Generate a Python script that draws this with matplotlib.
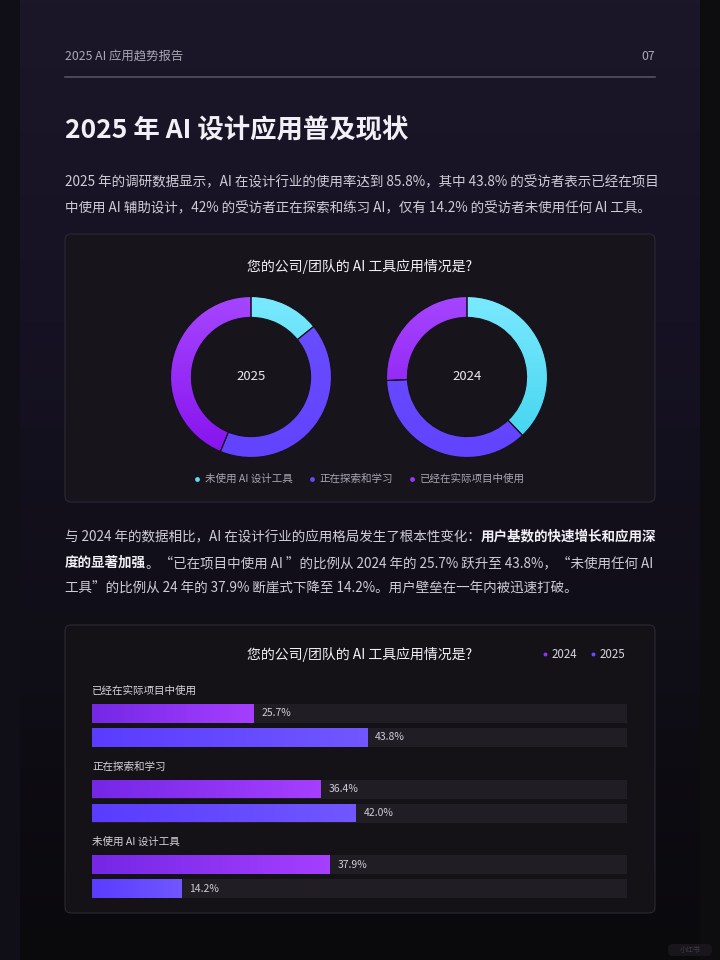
import numpy as np
import matplotlib
matplotlib.use('Agg')
import matplotlib.pyplot as plt
from matplotlib.patches import FancyBboxPatch, Rectangle
from matplotlib.colors import LinearSegmentedColormap

plt.rcParams['font.family'] = ['Noto Sans CJK SC', 'DejaVu Sans']

# donut data (clockwise from 12 o'clock)
donut_labels = ['未使用 AI 设计工具', '正在探索和学习', '已经在实际项目中使用']
share_2025 = [14.2, 42.0, 43.8]
share_2024 = [37.9, 36.4, 25.7]

# bar data
bar_groups = ['已经在实际项目中使用', '正在探索和学习', '未使用 AI 设计工具']
bar_2024 = [25.7, 36.4, 37.9]
bar_2025 = [43.8, 42.0, 14.2]
years = ['2024', '2025']

TXT = '#d0ccd7'
WHITE = '#f2f0f6'
ring_grads = [('#7be9ff', '#3fd3ee'), ('#6a4fff', '#6243ff'), ('#a646ff', '#8612ee')]
leg_cols = ['#5fdcf2', '#6548ff', '#9b35ff']
bar_grads = {'2024': ('#7527e6', '#a63fff'), '2025': ('#5a3cff', '#7157ff')}
leg_bar_cols = {'2024': '#8a35f0', '2025': '#6a4cff'}

fig = plt.figure(figsize=(7.2, 9.6), dpi=100)
fig.patch.set_facecolor('#0f0d13')
bg = fig.add_axes([0, 0, 1, 1])
bg.set_xlim(0, 720)
bg.set_ylim(960, 0)
bg.axis('off')

# page background
bg.add_patch(Rectangle((0, 0), 20, 960, color='#100e16', zorder=0))
bg.add_patch(Rectangle((700, 0), 20, 960, color='#0d0c0f', zorder=0))
page = LinearSegmentedColormap.from_list('page', ['#1b1729', '#161223', '#100e17', '#0a090c'])
bg.imshow(np.linspace(0, 1, 256).reshape(-1, 1), extent=(20, 700, 960, 0), cmap=page,
          aspect='auto', zorder=0)
bg.set_xlim(0, 720)
bg.set_ylim(960, 0)

# header
bg.text(65, 56, '2025 AI 应用趋势报告', fontsize=8.9, color='#aaa6b3', va='center')
bg.text(655, 56, '07', fontsize=8.9, color='#aaa6b3', va='center', ha='right')
bg.plot([65, 655], [77, 77], color='#55515f', lw=1.2)

bg.text(65, 131, '2025 年 AI 设计应用普及现状', fontsize=19, fontweight='bold', color=WHITE, va='center')

renderer = fig.canvas.get_renderer()


def runs(x, y, parts, size=9.75):
    for s, bold in parts:
        t = bg.text(x, y, s, fontsize=size, color=WHITE if bold else TXT,
                    fontweight='bold' if bold else 'normal', va='center')
        x += t.get_window_extent(renderer=renderer).width


runs(65, 182, [('2025 年的调研数据显示，AI 在设计行业的使用率达到 85.8%，其中 43.8% 的受访者表示已经在项目', False)])
runs(65, 208, [('中使用 AI 辅助设计，42% 的受访者正在探索和练习 AI，仅有 14.2% 的受访者未使用任何 AI 工具。', False)])

runs(65, 537, [('与 2024 年的数据相比，AI 在设计行业的应用格局发生了根本性变化：', False),
               ('用户基数的快速增长和应用深', True)])
runs(65, 563, [('度的显著加强', True),
               ('。“已在项目中使用 AI ”的比例从 2024 年的 25.7% 跃升至 43.8%，“未使用任何 AI', False)])
runs(65, 589, [('工具”的比例从 24 年的 37.9% 断崖式下降至 14.2%。用户壁垒在一年内被迅速打破。', False)])

# cards
for y0, h, fc in [(234, 268, '#17141c'), (625, 288, '#141217')]:
    bg.add_patch(FancyBboxPatch((65, y0), 590, h, boxstyle='round,pad=0,rounding_size=6',
                                fc=fc, ec='#2c2933', lw=0.8, zorder=1))

title = '您的公司/团队的 AI 工具应用情况是?'
bg.text(360, 266, title, fontsize=10, color=WHITE, ha='center', va='center', zorder=3)
bg.text(360, 655, title, fontsize=10, color=WHITE, ha='center', va='center', zorder=3)

# donuts
grad = np.linspace(0, 1, 256).reshape(-1, 1)


def donut(cx, cy, vals, label):
    r = 90
    ax = fig.add_axes([(cx - r) / 720, 1 - (cy + r) / 960, 2 * r / 720, 2 * r / 960])
    wedges, _ = ax.pie(vals, startangle=90, counterclock=False, radius=1,
                       wedgeprops=dict(width=0.26, edgecolor='#15121a', linewidth=0.8))
    for w, (c1, c2) in zip(wedges, ring_grads):
        w.set_facecolor('none')
        w.set_zorder(3)
        cm = LinearSegmentedColormap.from_list('w', [c1, c2])
        im = ax.imshow(grad, extent=(-1, 1, -1, 1), origin='upper', cmap=cm, aspect='auto', zorder=2)
        im.set_clip_path(w)
    s = r / 80.5
    ax.set_xlim(-s, s)
    ax.set_ylim(-s, s)
    ax.set_aspect('equal')
    ax.axis('off')
    ax.text(0, 0, label, ha='center', va='center', fontsize=9.5, color='#ebe9f0')


donut(251, 377, share_2025, '2025')
donut(467, 377, share_2024, '2024')

# donut legend
x = 193
for lab, c in zip(donut_labels, leg_cols):
    bg.scatter([x + 4], [479], s=12, color=c, zorder=3, linewidths=0)
    t = bg.text(x + 12, 479, lab, fontsize=7.6, color='#a9a5b2', va='center', zorder=3)
    x += 12 + t.get_window_extent(renderer=renderer).width + 15

# bar legend
x = 541
for yr in years:
    bg.scatter([x + 4], [654], s=8, color=leg_bar_cols[yr], zorder=3, linewidths=0)
    t = bg.text(x + 11, 654, yr, fontsize=8.3, color='#d8d4de', va='center', zorder=3)
    x += 11 + t.get_window_extent(renderer=renderer).width + 11

# bars
xmax = 85.2
bx = fig.add_axes([92 / 720, 0, 535 / 720, 1])
bx.set_xlim(0, xmax)
bx.set_ylim(960, 0)
bx.axis('off')
bx.patch.set_alpha(0)
hgrad = np.linspace(0, 1, 256).reshape(1, -1)
for i, name in enumerate(bar_groups):
    base = 713.5 + i * 75.5
    bx.text(0, base - 22.5, name, fontsize=7.6, color='#d6d2dc', va='center')
    for j, (yr, vals) in enumerate(zip(years, [bar_2024, bar_2025])):
        y = base + j * 24
        bx.barh(y, xmax, height=19, color='#201e24', zorder=1)
        bar = bx.barh(y, vals[i], height=19, color='none', zorder=3)[0]
        cm = LinearSegmentedColormap.from_list('b', list(bar_grads[yr]))
        im = bx.imshow(hgrad, extent=(0, vals[i], y + 9.5, y - 9.5), cmap=cm, aspect='auto', zorder=2)
        im.set_clip_path(bar)
        bx.text(vals[i] + 8 * xmax / 535, y, f'{vals[i]:.1f}%', fontsize=7.5, color='#d0ccd8',
                va='center', zorder=4)
bx.set_xlim(0, xmax)
bx.set_ylim(960, 0)

# watermark
bg.add_patch(FancyBboxPatch((668, 944), 44, 12, boxstyle='round,pad=0,rounding_size=5',
                            fc='#18161b', ec='none', zorder=2))
bg.text(690, 950, '小红书', fontsize=5, color='#3c3a42', ha='center', va='center', zorder=3)

fig.savefig('out.png', dpi=100, facecolor=fig.get_facecolor())
